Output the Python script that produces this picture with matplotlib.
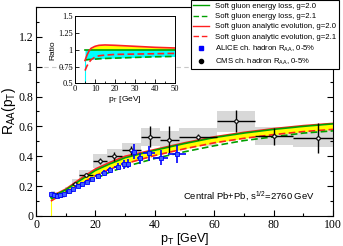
import numpy as np
import matplotlib
matplotlib.use("Agg")
import matplotlib.pyplot as plt
from matplotlib.patches import Rectangle
from matplotlib.ticker import MultipleLocator, FuncFormatter

plt.rcParams['font.family'] = ['Liberation Sans', 'DejaVu Sans']
plt.rcParams['mathtext.fontset'] = 'custom'
plt.rcParams['mathtext.rm'] = 'Liberation Sans'
plt.rcParams['mathtext.it'] = 'Liberation Sans'

# theory curves, main panel
pt = [5, 7.5, 10, 15, 20, 25, 30, 40, 50, 60, 70, 80, 90, 100]
eloss_20 = [0.125, 0.15, 0.175, 0.24, 0.305, 0.35, 0.39, 0.44, 0.485, 0.525, 0.555, 0.58, 0.60, 0.617]
eloss_21 = [0.115, 0.135, 0.15, 0.20, 0.25, 0.295, 0.33, 0.385, 0.43, 0.47, 0.505, 0.53, 0.555, 0.57]
anal_20 = [0.13, 0.155, 0.18, 0.25, 0.315, 0.36, 0.40, 0.445, 0.49, 0.53, 0.56, 0.585, 0.605, 0.62]
anal_21 = [0.10, 0.13, 0.155, 0.215, 0.27, 0.315, 0.35, 0.405, 0.45, 0.49, 0.52, 0.545, 0.565, 0.58]

# ratio curves, inset
rpt = [5, 6, 7, 8, 10, 12, 15, 20, 30, 40, 50]
r_eloss_20 = [1.0, 1.0, 1.0, 1.0, 1.0, 1.0, 1.0, 1.0, 1.0, 1.0, 1.0]
r_eloss_21 = [0.85, 0.85, 0.855, 0.855, 0.86, 0.865, 0.87, 0.875, 0.885, 0.895, 0.90]
r_anal_20 = [0.84, 0.92, 0.98, 1.02, 1.05, 1.065, 1.07, 1.065, 1.05, 1.035, 1.025]
r_anal_21 = [0.69, 0.76, 0.81, 0.85, 0.89, 0.91, 0.92, 0.93, 0.935, 0.94, 0.945]

# ALICE 0-5%
alice_pt = [5.0, 6.0, 7.0, 8.0, 9.5, 11.0, 12.5, 14.0, 15.5, 17.0, 19.0, 21.0, 23.0, 25.0,
            27.5, 29.5, 31.0, 33.0, 35.0, 38.0, 42.0, 47.5]
alice_r = [0.15, 0.14, 0.135, 0.14, 0.15, 0.165, 0.18, 0.20, 0.215, 0.23, 0.25, 0.265, 0.29, 0.31,
           0.33, 0.345, 0.35, 0.43, 0.385, 0.42, 0.39, 0.415]
alice_ex = [0.25, 0.5, 0.5, 0.5, 0.75, 0.75, 0.75, 0.75, 0.75, 0.75, 1.0, 1.0, 1.0, 1.0,
            1.25, 0.75, 0.75, 1.0, 1.0, 2.0, 2.5, 3.0]
alice_ey = [0.005, 0.005, 0.005, 0.005, 0.006, 0.007, 0.008, 0.01, 0.01, 0.012, 0.014, 0.016, 0.02, 0.02,
            0.025, 0.03, 0.03, 0.05, 0.04, 0.05, 0.05, 0.06]

# CMS 0-5%
cms_lo = [5.2, 6.4, 7.2, 9.6, 12.0, 14.4, 19.2, 24.0, 28.8, 35.2, 41.6, 48.0, 60.8, 73.6, 86.4]
cms_hi = [6.4, 7.2, 9.6, 12.0, 14.4, 19.2, 24.0, 28.8, 35.2, 41.6, 48.0, 60.8, 73.6, 86.4, 103.6]
cms_r = [0.15, 0.14, 0.14, 0.17, 0.215, 0.275, 0.367, 0.40, 0.44, 0.53, 0.51, 0.53, 0.635, 0.533, 0.52]
cms_stat = [0.005, 0.005, 0.005, 0.006, 0.008, 0.01, 0.02, 0.03, 0.03, 0.07, 0.09, 0.02, 0.075, 0.055, 0.10]
cms_sys = [0.02, 0.02, 0.02, 0.025, 0.03, 0.035, 0.045, 0.05, 0.05, 0.06, 0.06, 0.06, 0.07, 0.06, 0.06]

green = '#00a000'
red = '#ff2020'

fig = plt.figure(figsize=(3.43, 2.46), dpi=100)
ax = fig.add_axes([0.105, 0.122, 0.866, 0.850])

# CMS systematic boxes
for lo, hi, r, s in zip(cms_lo, cms_hi, cms_r, cms_sys):
    ax.add_patch(Rectangle((lo, r - s), hi - lo, 2 * s, facecolor='#d8d8d8', edgecolor='none', zorder=1))

ax.axhline(1.0, color='#c8c8c8', lw=0.8, ls=(0, (4, 3)), zorder=0)

ax.fill_between(pt, anal_21, eloss_20, color='#ffff00', lw=0, zorder=2)
ax.vlines(pt[0], 0, eloss_20[0], color='#ffff00', lw=0.8, zorder=2)
ax.plot(pt, anal_20, color=red, lw=1.2, zorder=3)
ax.plot(pt, eloss_20, color=green, lw=1.2, zorder=3)
ax.plot(pt, anal_21, color=red, lw=1.2, ls=(0, (4, 2)), zorder=3)
ax.plot(pt, eloss_21, color=green, lw=1.2, ls=(0, (4, 2)), zorder=3)

cms_pt = [(a + b) / 2 for a, b in zip(cms_lo, cms_hi)]
cms_ex = [(b - a) / 2 for a, b in zip(cms_lo, cms_hi)]
ax.errorbar(cms_pt, cms_r, xerr=cms_ex, yerr=cms_stat, fmt='o', color='black', ms=2.5,
            mfc='white', mec='black', mew=0.8, elinewidth=1.0, capsize=0, zorder=4)
ax.errorbar(alice_pt, alice_r, xerr=alice_ex, yerr=alice_ey, fmt='s', color='#0000ff', ms=2.5,
            mfc='#4060ff', mec='#0000ff', mew=0.6, elinewidth=1.2, capsize=0, zorder=5)

ax.set_xlim(0, 100)
ax.set_ylim(0, 1.4)
ax.set_yticks([0, 0.2, 0.4, 0.6, 0.8, 1.0, 1.2])
ax.xaxis.set_major_locator(MultipleLocator(20))
ax.xaxis.set_minor_locator(MultipleLocator(10))
ax.yaxis.set_minor_locator(MultipleLocator(0.1))
ax.yaxis.set_major_formatter(FuncFormatter(lambda v, p: '%g' % v))
ax.tick_params(which='both', direction='in', right=True, labelsize=8.5, pad=2)
ax.tick_params(which='major', length=4.5, width=0.8)
ax.tick_params(which='minor', length=2.5, width=0.8)
for lab in ax.get_xticklabels() + ax.get_yticklabels():
    lab.set_family('Liberation Serif')
ax.set_xlabel('p$_T$ [GeV]', fontsize=9, labelpad=0)
ax.set_ylabel('R$_{AA}$(p$_T$)', fontsize=10, labelpad=0)
ax.text(49.5, 0.115, 'Central Pb+Pb, s$^{1/2}$=2760 GeV', fontsize=6.8)

# legend
h = [plt.Line2D([], [], color=green, lw=1.0),
     plt.Line2D([], [], color=green, lw=1.0, ls=(0, (4, 2))),
     plt.Line2D([], [], color=red, lw=1.0),
     plt.Line2D([], [], color=red, lw=1.0, ls=(0, (4, 2))),
     plt.Line2D([], [], color='#0000ff', marker='s', ms=3, ls='none'),
     plt.Line2D([], [], color='black', marker='o', ms=3, ls='none')]
labels = ['Soft gluon energy loss, g=2.0', 'Soft gluon energy loss, g=2.1',
          'Soft gluon analytic evolution, g=2.0', 'Soft gluon analytic evolution, g=2.1',
          'ALICE ch. hadron R$_{AA}$, 0-5%', 'CMS ch. hadron R$_{AA}$, 0-5%']
leg = fig.legend(h, labels, loc='upper right', bbox_to_anchor=(0.988, 1.0), fontsize=5.6,
                 frameon=True, fancybox=False, edgecolor='black', framealpha=1,
                 handlelength=2.0, handletextpad=0.8, labelspacing=0.35, borderpad=0.35,
                 borderaxespad=0)
leg.get_frame().set_linewidth(0.8)

# inset with ratios
ins = fig.add_axes([0.2187, 0.661, 0.2915, 0.274])
ins.fill_between(rpt, r_eloss_21, r_eloss_20, color='#00ffff', lw=0, zorder=1)
ins.fill_between(rpt, r_eloss_20, r_anal_20, where=[a >= b for a, b in zip(r_anal_20, r_eloss_20)],
                 interpolate=True, color='#ffff00', lw=0, zorder=1)
ins.vlines(rpt[0], 0.5, r_eloss_21[0], color='#00ffff', lw=0.8, zorder=1)
ins.plot(rpt, r_eloss_20, color=green, lw=1.2, zorder=2)
ins.plot(rpt, r_eloss_21, color=green, lw=1.2, ls=(0, (4, 2)), zorder=2)
ins.plot(rpt, r_anal_20, color=red, lw=1.2, zorder=3)
ins.plot(rpt, r_anal_21, color=red, lw=1.2, ls=(0, (4, 2)), zorder=3)
ins.set_xlim(0, 50)
ins.set_ylim(0.5, 1.5)
ins.set_yticks([0.5, 0.75, 1.0, 1.25, 1.5])
ins.xaxis.set_major_locator(MultipleLocator(10))
ins.xaxis.set_minor_locator(MultipleLocator(5))
ins.yaxis.set_major_formatter(FuncFormatter(lambda v, p: '%g' % v))
ins.tick_params(which='both', direction='in', labelsize=6, pad=1.5)
ins.tick_params(which='major', length=3, width=0.6)
ins.tick_params(which='minor', length=1.5, width=0.6)
for lab in ins.get_xticklabels() + ins.get_yticklabels():
    lab.set_family('Liberation Serif')
ins.set_xlabel('p$_T$ [GeV]', fontsize=6, labelpad=0.5)
ins.set_ylabel('Ratio', fontsize=6, labelpad=1)
for sp in ins.spines.values():
    sp.set_linewidth(0.7)

fig.savefig('out.png', dpi=100)
